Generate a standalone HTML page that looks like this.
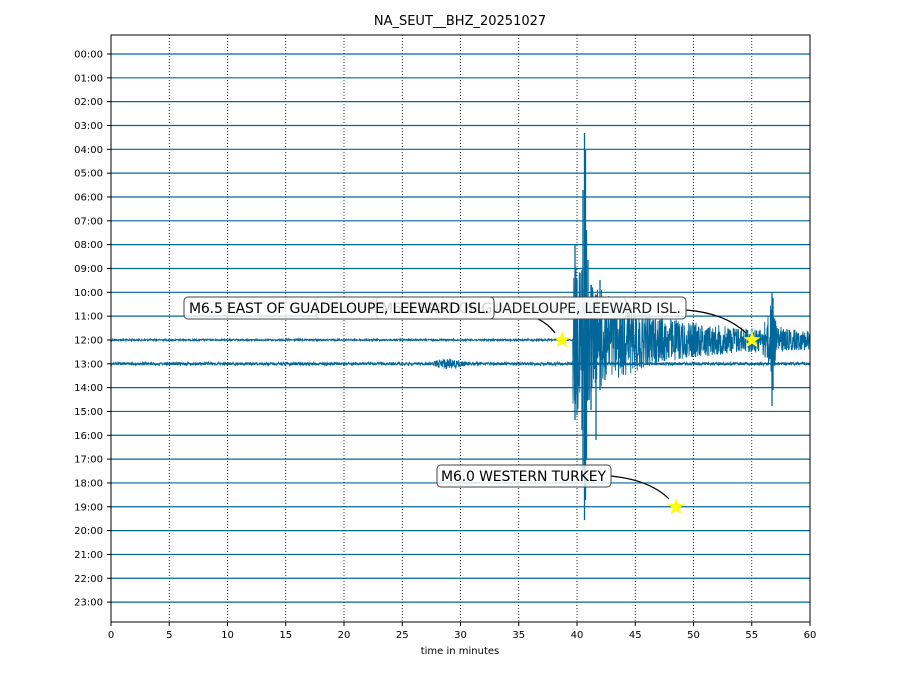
<!DOCTYPE html>
<html><head><meta charset="utf-8"><style>
body{margin:0;background:#fff;}
svg{display:block;font-family:"DejaVu Sans","Liberation Sans",sans-serif;}
</style></head><body>
<svg id="s" width="919" height="690" xmlns="http://www.w3.org/2000/svg">
<rect width="919" height="690" fill="#fff"/>
<text x="460" y="25" text-anchor="middle" font-size="13">NA_SEUT__BHZ_20251027</text>
<g id="grid" stroke="#000" stroke-width="0.8" stroke-dasharray="1,2"></g>
<g id="traces" fill="none" stroke="#00679a"></g>
<rect x="111" y="35" width="699" height="587" fill="none" stroke="#000" stroke-width="1"/>
<g id="ticks" font-size="10"></g>
<text x="460" y="654" text-anchor="middle" font-size="10">time in minutes</text>
<g id="ann" font-size="14"></g>
</svg>
<script>
var NS="http://www.w3.org/2000/svg";
function el(t,a,p,txt){var e=document.createElementNS(NS,t);for(var k in a)e.setAttribute(k,a[k]);if(txt!=null)e.textContent=txt;document.getElementById(p).appendChild(e);return e;}
var x0=111,x1=810,px=699/60;
for(var m=5;m<60;m+=5){var x=x0+m*px;el('line',{x1:x,y1:35,x2:x,y2:622},'grid');}
for(var m=0;m<=60;m+=5){var x=x0+m*px;el('line',{x1:x,y1:622,x2:x,y2:626,stroke:'#000'},'ticks');el('text',{x:x,y:638,'text-anchor':'middle'},'ticks',''+m);}
var seed=12345;function r(){seed=(seed*1103515245+12345)%2147483648;return seed/2147483648-0.5;}
var spikes=[[584.5,-207,180],[585.5,-190,160],[583,-150,130],[586.5,-110,120],[582,-70,90],[575,-95,80],[577,-60,75],[588,-80,60],[596,-45,100],[600,-60,50],[591,-55,70],[605,-40,40],[772,-48,66],[773,-42,50]];
for(var h=0;h<24;h++){var y=54+h*23.83;
 el('line',{x1:x0-4,y1:y,x2:x0,y2:y,stroke:'#000'},'ticks');
 el('text',{x:x0-8,y:y+3.5,'text-anchor':'end'},'ticks',(h<10?'0':'')+h+':00');
 var d='M'+x0+' '+y;
 if(h==12||h==13){
  for(var x=x0;x<=x1;x+=0.25){var a;
   if(h==13){a=1.4;if(x>433&&x<480)a=4*Math.exp(-Math.pow((x-448)/14,2))+1.4;}
   else{a=0.8;
    if(x>=573){var t=x-573;a=55*Math.exp(-t/45)+18*Math.exp(-t/150)+6;}
    if(x>=763){var t2=x-763;a=Math.max(a,8+30*Math.exp(-Math.abs(t2-8)/6));}
   }
   var v=a*2*r();d+=' L'+x.toFixed(2)+' '+(y+v).toFixed(1);}
  el('path',{d:d,'stroke-width':0.9},'traces');
  if(h==12){var dd='';spikes.forEach(function(s){dd+='M'+s[0]+' '+(y+s[1])+' L'+s[0]+' '+(y+s[2])+' ';});
   el('path',{d:dd,'stroke-width':1.3},'traces');}
 } else {el('line',{x1:x0,y1:y,x2:x1,y2:y,'stroke-width':1.2},'traces');}
}
function star(cx,cy){var p='';for(var i=0;i<10;i++){var rr=i%2?3.6:9,an=-Math.PI/2+i*Math.PI/5;p+=(cx+rr*Math.cos(an)).toFixed(1)+','+(cy+rr*Math.sin(an)).toFixed(1)+' ';}el('polygon',{points:p,fill:'#ffff00'},'ann');}
function box(x,y,w,h,op){el('rect',{x:x,y:y,width:w,height:h,rx:4,fill:'#fff','fill-opacity':op,stroke:'#444','stroke-width':1},'ann');}
var L='M6.5 EAST OF GUADELOUPE, LEEWARD ISL.';
el('path',{d:'M496 309 Q540 312 555 333',fill:'none',stroke:'#000','stroke-width':1.2},'ann');
el('path',{d:'M686 310 Q725 313 746 333',fill:'none',stroke:'#000','stroke-width':1.2},'ann');
el('path',{d:'M611 476 Q650 480 669 499',fill:'none',stroke:'#000','stroke-width':1.2},'ann');
box(316,297,310,22,0.75);el('text',{x:321,y:313,fill:'#999',textLength:300},'ann',L);
box(376,297,310,22,0.8);el('text',{x:381,y:313,fill:'#222',textLength:300},'ann',L);
box(184,297,310,22,0.8);el('text',{x:189,y:313,textLength:300},'ann',L);
box(437,465,174,22,0.8);el('text',{x:441,y:481,textLength:165},'ann','M6.0 WESTERN TURKEY');
star(562,340);star(752,340);star(676,507);
</script>
</body></html>
